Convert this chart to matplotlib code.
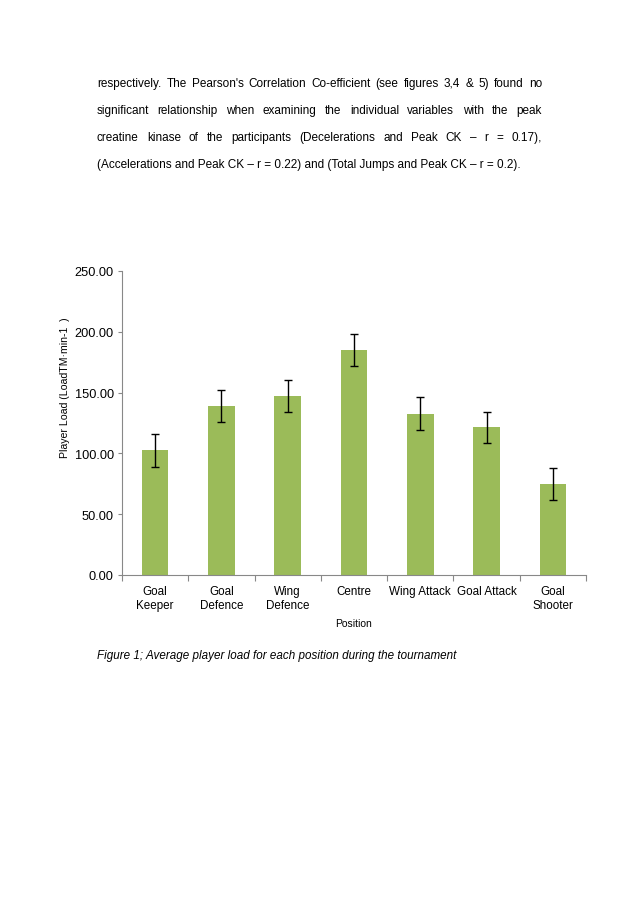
import numpy as np
import matplotlib
matplotlib.use("Agg")
import matplotlib.pyplot as plt

plt.rcParams['font.family'] = ['Liberation Sans', 'DejaVu Sans']

positions = ["Goal\nKeeper", "Goal\nDefence", "Wing\nDefence", "Centre",
             "Wing Attack", "Goal Attack", "Goal\nShooter"]
player_load = [102.5, 139.0, 147.0, 185.0, 132.8, 121.5, 74.6]
load_err = [13.5, 12.9, 13.2, 13.0, 13.2, 12.8, 13.0]
yticks = [0, 50, 100, 150, 200, 250]

paragraph = [
    ("respectively. The Pearson's Correlation Co-efficient (see figures 3,4 & 5) found no", True),
    ("significant relationship when examining the individual variables with the peak", True),
    ("creatine kinase of the participants (Decelerations and Peak CK \u2013 r = 0.17),", True),
    ("(Accelerations and Peak CK \u2013 r = 0.22) and (Total Jumps and Peak CK \u2013 r = 0.2).", False),
]
caption = "Figure 1; Average player load for each position during the tournament"

W, H = 638, 904
fig = plt.figure(figsize=(W / 100, H / 100), dpi=100)
fig.patch.set_facecolor("white")

# body text above the chart, first three lines justified
renderer = fig.canvas.get_renderer()
x_left, x_right = 97 / W, 542 / W
line_y = [84, 111, 138, 165]
for (line, justify), y in zip(paragraph, line_y):
    yy = 1 - y / H
    if not justify:
        fig.text(x_left, yy, line, fontsize=8.45, va="center", ha="left")
        continue
    words = line.split(" ")
    texts = [fig.text(0, yy, w, fontsize=8.45, va="center", ha="left") for w in words]
    widths = [t.get_window_extent(renderer).width / W for t in texts]
    gap = (x_right - x_left - sum(widths)) / (len(words) - 1)
    x = x_left
    for t, wd in zip(texts, widths):
        t.set_x(x)
        x += wd + gap

ax = fig.add_axes([122 / W, 1 - 576 / H, (586 - 122) / W, (576 - 272) / H])
xs = np.arange(len(positions))
ax.bar(xs, player_load, width=0.4, color="#9BBB59", zorder=2)
ax.errorbar(xs, player_load, yerr=load_err, fmt="none", ecolor="black",
            elinewidth=1, capsize=3, capthick=1, zorder=3)

ax.set_xlim(-0.5, len(positions) - 0.5)
ax.set_ylim(0, 250)
ax.set_yticks(yticks)
ax.set_yticklabels([f"{v:.2f}" for v in yticks], fontsize=9.2)
ax.set_xticks(xs)
ax.set_xticklabels(positions, fontsize=8.4, linespacing=1.3)
ax.set_xticks(np.arange(len(positions) + 1) - 0.5, minor=True)
ax.tick_params(axis="x", which="major", length=0, pad=7)
ax.tick_params(axis="x", which="minor", length=4, color="#888888", width=0.8)
ax.tick_params(axis="y", length=3, color="#888888", width=0.8, pad=3)

for side in ("top", "right"):
    ax.spines[side].set_visible(False)
for side in ("left", "bottom"):
    ax.spines[side].set_color("#888888")
    ax.spines[side].set_linewidth(0.8)

ax.set_xlabel("Position", fontsize=7.5, labelpad=5)
ax.set_ylabel("Player Load (LoadTM\u00b7min-1  )", fontsize=7.6)
ax.yaxis.set_label_coords(-0.112, 0.62)

fig.text(97 / W, 1 - 656 / H, caption, fontsize=8.4, style="italic",
         va="center", ha="left")

fig.savefig("out.png", dpi=100, facecolor="white")
